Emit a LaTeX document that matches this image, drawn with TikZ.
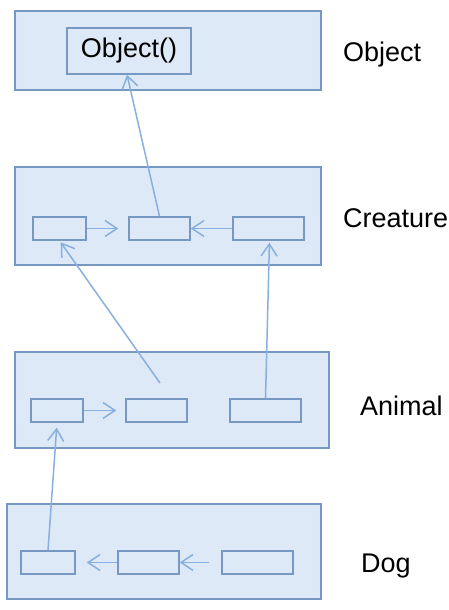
\documentclass[tikz,border=0pt]{standalone}
\usepackage{fontspec}
\setmainfont{Liberation Sans}
\usetikzlibrary{arrows.meta}
\definecolor{boxfill}{HTML}{DDE9F7}
\definecolor{boxborder}{HTML}{7898C4}
\definecolor{arrowc}{HTML}{88B0DE}
\tikzset{
  outerbox/.style={draw=boxborder, fill=boxfill, line width=1.4pt, inner sep=0pt},
  smallbox/.style={draw=boxborder, fill=boxfill, line width=1.4pt, inner sep=0pt, minimum height=23pt},
  arr/.style={draw=arrowc, line width=1.5pt, -{Straight Barb[length=12pt,width=16pt,line width=1.5pt]}},
  lbl/.style={anchor=base west, inner sep=0pt, font=\fontsize{27}{31}\selectfont},
}
\begin{document}
\begin{tikzpicture}[x=1pt,y=-1pt]
\useasboundingbox (0,0) rectangle (449,610);
% outer boxes
\node[outerbox, minimum width=306pt, minimum height=79pt] (O) at (168,50.5) {};
\node[outerbox, minimum width=306pt, minimum height=98pt] (C) at (168,216) {};
\node[outerbox, minimum width=314pt, minimum height=96pt] (A) at (172,400) {};
\node[outerbox, minimum width=314pt, minimum height=95pt] (D) at (164,551.5) {};
% inner boxes
\node[smallbox, minimum width=124pt, minimum height=46pt, font=\fontsize{27}{31}\selectfont] (obj) at (129,51) {Object()};
\node[smallbox, minimum width=53pt] (c1) at (59.5,228.5) {};
\node[smallbox, minimum width=61pt] (c2) at (159.5,228.5) {};
\node[smallbox, minimum width=71pt] (c3) at (268.5,228.5) {};
\node[smallbox, minimum width=52pt] (a1) at (57,410.5) {};
\node[smallbox, minimum width=61pt] (a2) at (156.5,410.5) {};
\node[smallbox, minimum width=71pt] (a3) at (265.5,410.5) {};
\node[smallbox, minimum width=54pt] (d1) at (48,562.5) {};
\node[smallbox, minimum width=61pt] (d2) at (148.5,562.5) {};
\node[smallbox, minimum width=71pt] (d3) at (257.5,562.5) {};
% labels
\node[lbl] (lO) at (343,62) {Object};
\node[lbl] (lC) at (343,227) {Creature};
\node[lbl] (lA) at (360,415) {Animal};
\node[lbl] (lD) at (361,572) {Dog};
% connectors
\coordinate (afree) at (160,383);
\draw[arr] (c2.north) -- ([xshift=-2pt]obj.south);
\draw[arr] (c1.east) -- ([xshift=-10pt]c2.west);
\draw[arr] (c3.west) -- (c2.east);
\draw[arr, shorten >=2pt] (afree) -- (c1.south);
\draw[arr, shorten >=2pt] (a3.north) -- ([xshift=1pt]c3.south);
\draw[arr] (a1.east) -- ([xshift=-9pt]a2.west);
\draw[arr, shorten >=5pt] (d1.north) -- (a1.south);
\draw[arr] (d2.west) -- ([xshift=11pt]d1.east);
\draw[arr] ([xshift=-12pt]d3.west) -- (d2.east);
\end{tikzpicture}
\end{document}
